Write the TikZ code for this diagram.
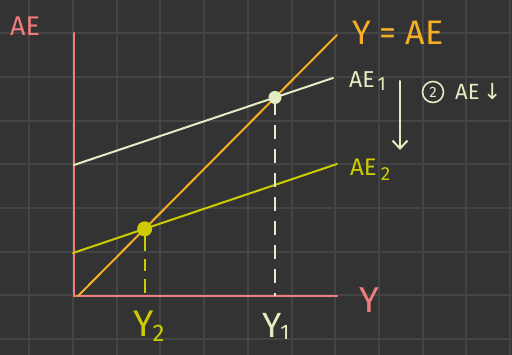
\documentclass[tikz,border=0pt]{standalone}
\usepackage{fontspec}
\setmainfont{Fira Sans}
\newfontfamily\symfont{DejaVu Sans}
\usetikzlibrary{arrows.meta,intersections}
\definecolor{bg}{HTML}{333333}
\definecolor{gridc}{HTML}{444444}
\definecolor{axisc}{HTML}{F07C7C}
\definecolor{orangec}{HTML}{F5AE25}
\definecolor{palec}{HTML}{E4EDC2}
\definecolor{yellowc}{HTML}{CCCC00}
\begin{document}
\begin{tikzpicture}[x=1pt,y=-1pt,line cap=round,
  lbl/.style={anchor=base west,inner sep=0pt},
  gridline/.style={gridc,line width=2pt,line cap=butt},
  curve/.style={line width=2pt},
  dashline/.style={line width=2pt,dash pattern=on 14pt off 10pt,line cap=butt},
  fs/.style={font=\fontsize{#1}{#1}\selectfont}]
\fill[bg] (0,0) rectangle (512,355);
\useasboundingbox (0,0) rectangle (512,355);
\foreach \i in {0,...,11} \draw[gridline] ({29.3+43.7*\i},0) -- ({29.3+43.7*\i},355);
\foreach \j in {0,...,7} \draw[gridline] (0,{33.3+43.7*\j}) -- (512,{33.3+43.7*\j});
% axes
\coordinate (O) at (74,296);
\coordinate (ytop) at (74,33);
\coordinate (xend) at (337,296);
\draw[axisc,line width=2.5pt] (ytop) -- (O) -- (xend);
% lines
\coordinate (d0) at (78,296);
\coordinate (d1) at (337,35);
\coordinate (p0) at (74,165);
\coordinate (p1) at (333,78);
\coordinate (q0) at (73,253);
\coordinate (q1) at (337,164);
\draw[orangec,curve,name path=diag] (d0) -- (d1);
\draw[palec,curve,name path=aeone] (p0) -- (p1);
\draw[yellowc,curve,name path=aetwo] (q0) -- (q1);
\path[name intersections={of=diag and aeone,by=E1}];
\path[name intersections={of=diag and aetwo,by=E2}];
\coordinate (F1) at (E1 |- O);
\coordinate (F2) at (E2 |- O);
\draw[palec,dashline,dash phase=-4pt] (E1) -- (F1);
\draw[yellowc,dashline,dash pattern=on 22pt off 8pt on 12pt off 8pt on 14pt off 10pt] (E2) -- (F2);
\fill[palec] (E1) circle (6.5);
\fill[yellowc] (E2) circle (7.5);
% arrow
\coordinate (a0) at (400,81);
\coordinate (a1) at (400,150);
\draw[palec,line width=2pt,-{Straight Barb[length=8pt,width=15pt]}] (a0) -- (a1);
% labels
\node[lbl,text=axisc,fs=27] (lAE) at (10,36) {AE};
\node[lbl,text=orangec,fs=34] (lYAE) at (352,45) {Y = AE};
\node[lbl,text=palec,fs=23] (lAE1) at (349,88) {AE\kern3pt\raisebox{-3pt}{\fontsize{19}{19}\selectfont 1}};
\node[lbl,text=yellowc,fs=24] (lAE2) at (350,176) {AE\kern4pt\raisebox{-5pt}{\fontsize{19}{19}\selectfont 2}};
\node[circle,draw=palec,line width=1.6pt,inner sep=0pt,minimum size=21pt,text=palec,fs=15] (c2) at (433,92) {2};
\node[lbl,text=palec,fs=22] (lAEd) at (455,100) {AE\,{\symfont ↓}};
\node[lbl,text=axisc,fs=36] (lY) at (359,313) {Y};
\node[lbl,text=yellowc,fs=37] (lY2) at (133,337) {Y\kern-1pt\raisebox{-5pt}{\fontsize{24}{24}\selectfont 2}};
\node[lbl,text=palec,fs=35] (lY1) at (262,338) {Y\kern-1pt\raisebox{-2pt}{\fontsize{21}{21}\selectfont 1}};
\end{tikzpicture}
\end{document}
